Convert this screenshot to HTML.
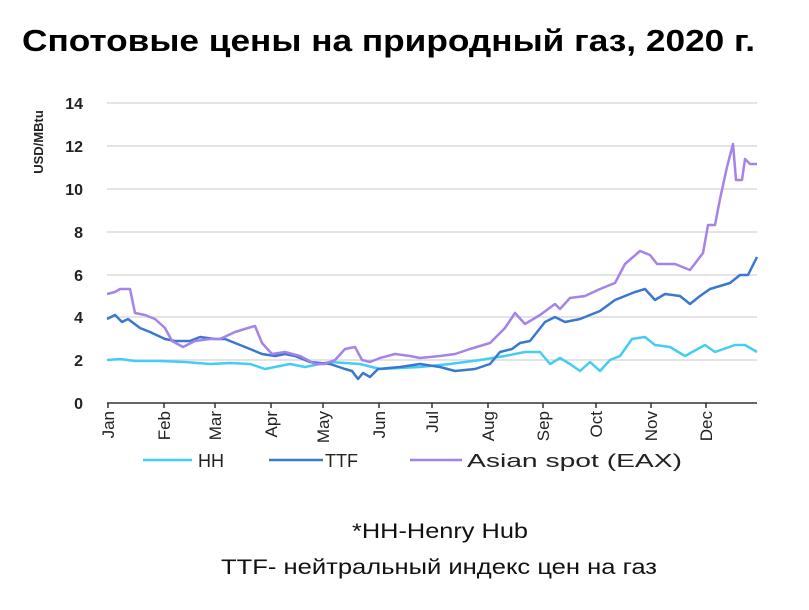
<!DOCTYPE html><html><head><meta charset="utf-8"><style>body{margin:0;background:#fff;width:809px;height:610px;overflow:hidden}svg{display:block}</style></head><body>
<svg width="809" height="610" xmlns="http://www.w3.org/2000/svg" font-family="Liberation Sans, sans-serif">
<text x="22" y="51" font-size="31" font-weight="bold" textLength="733" lengthAdjust="spacingAndGlyphs" font-family="Liberation Sans, DejaVu Sans, sans-serif">Спотовые цены на природный газ, 2020 г.</text>
<g stroke="#dcdcdc" stroke-width="1.5">
<line x1="107" x2="757" y1="103" y2="103"/><line x1="107" x2="757" y1="146" y2="146"/><line x1="107" x2="757" y1="189" y2="189"/><line x1="107" x2="757" y1="232" y2="232"/><line x1="107" x2="757" y1="275" y2="275"/><line x1="107" x2="757" y1="317" y2="317"/><line x1="107" x2="757" y1="360" y2="360"/></g>
<line x1="107" x2="757" y1="403" y2="403" stroke="#333" stroke-width="1.5"/>
<g stroke="#333" stroke-width="1.5"><line x1="108" x2="108" y1="403" y2="408"/><line x1="164" x2="164" y1="403" y2="408"/><line x1="215" x2="215" y1="403" y2="408"/><line x1="271" x2="271" y1="403" y2="408"/><line x1="323" x2="323" y1="403" y2="408"/><line x1="379" x2="379" y1="403" y2="408"/><line x1="432" x2="432" y1="403" y2="408"/><line x1="488" x2="488" y1="403" y2="408"/><line x1="543" x2="543" y1="403" y2="408"/><line x1="596" x2="596" y1="403" y2="408"/><line x1="651" x2="651" y1="403" y2="408"/><line x1="706" x2="706" y1="403" y2="408"/></g>
<g font-size="16" font-weight="bold" text-anchor="end" fill="#222">
<text x="83" y="109">14</text><text x="83" y="152">12</text><text x="83" y="195">10</text><text x="83" y="238">8</text><text x="83" y="281">6</text><text x="83" y="323">4</text><text x="83" y="366">2</text><text x="83" y="409">0</text></g>
<text transform="translate(43,142) rotate(-90)" font-size="13" font-weight="bold" text-anchor="middle" fill="#222">USD/MBtu</text>
<g font-size="17" text-anchor="end" fill="#222">
<text transform="translate(114,411) rotate(-90)">Jan</text><text transform="translate(170,411) rotate(-90)">Feb</text><text transform="translate(221,411) rotate(-90)">Mar</text><text transform="translate(277,411) rotate(-90)">Apr</text><text transform="translate(329,411) rotate(-90)">May</text><text transform="translate(385,411) rotate(-90)">Jun</text><text transform="translate(438,411) rotate(-90)">Jul</text><text transform="translate(494,411) rotate(-90)">Aug</text><text transform="translate(549,411) rotate(-90)">Sep</text><text transform="translate(602,411) rotate(-90)">Oct</text><text transform="translate(657,411) rotate(-90)">Nov</text><text transform="translate(712,411) rotate(-90)">Dec</text></g>
<g fill="none" stroke-width="2.5" stroke-linejoin="round">
<polyline stroke="#45ccf5" points="107,360 120,359 135,361 160,361 185,362 210,364 230,363 250,364 265,369 290,364 305,367 330,362 360,364 380,369 400,368 420,367 450,364 480,360 505,356 525,352 540,352 550,364 560,358 570,364 580,371 590,362 600,371 610,360 620,356 632,339 645,337 655,345 670,347 685,356 705,345 715,352 735,345 745,345 757,352"/>
<polyline stroke="#3a78cf" points="107,319 115,315 122,322 128,319 140,328 150,332 165,339 175,341 190,341 200,337 215,339 225,339 235,343 250,349 262,354 275,356 285,354 295,356 310,362 330,364 345,369 352,371 358,379 363,373 370,377 378,369 400,367 420,364 440,367 455,371 475,369 490,364 500,352 512,349 520,343 530,341 545,322 555,317 565,322 580,319 600,311 615,300 635,292 645,289 655,300 665,294 680,296 690,304 700,296 710,289 730,283 740,275 748,275 757,257"/>
<polyline stroke="#a583ea" points="107,294 115,292 120,289 130,289 135,313 145,315 155,319 165,328 172,341 183,347 195,341 210,339 220,339 235,332 248,328 255,326 262,343 272,354 285,352 300,356 315,364 325,364 335,360 345,349 355,347 362,360 370,362 380,358 395,354 410,356 420,358 440,356 455,354 470,349 490,343 505,328 515,313 525,324 540,315 555,304 560,309 570,298 585,296 600,289 615,283 625,264 640,251 650,255 657,264 675,264 690,270 703,253 708,225 715,225 720,199 727,167 733,144 736,180 742,180 745,159 750,164 757,164"/>
</g>
<g stroke-width="2.5"><line x1="143" x2="192" y1="460" y2="460" stroke="#45ccf5"/><line x1="269" x2="323" y1="460" y2="460" stroke="#3a78cf"/><line x1="410" x2="462" y1="460" y2="460" stroke="#a583ea"/></g>
<g font-size="18" fill="#222"><text x="198" y="467">HH</text><text x="325" y="467">TTF</text><text x="467" y="467" textLength="215" lengthAdjust="spacingAndGlyphs">Asian spot (EAX)</text></g>
<g font-size="21" fill="#111" font-family="Liberation Sans, DejaVu Sans, sans-serif"><text x="352" y="538" textLength="176" lengthAdjust="spacingAndGlyphs">*HH-Henry Hub</text><text x="221" y="574" textLength="436" lengthAdjust="spacingAndGlyphs">TTF- нейтральный индекс цен на газ</text></g>
</svg></body></html>
